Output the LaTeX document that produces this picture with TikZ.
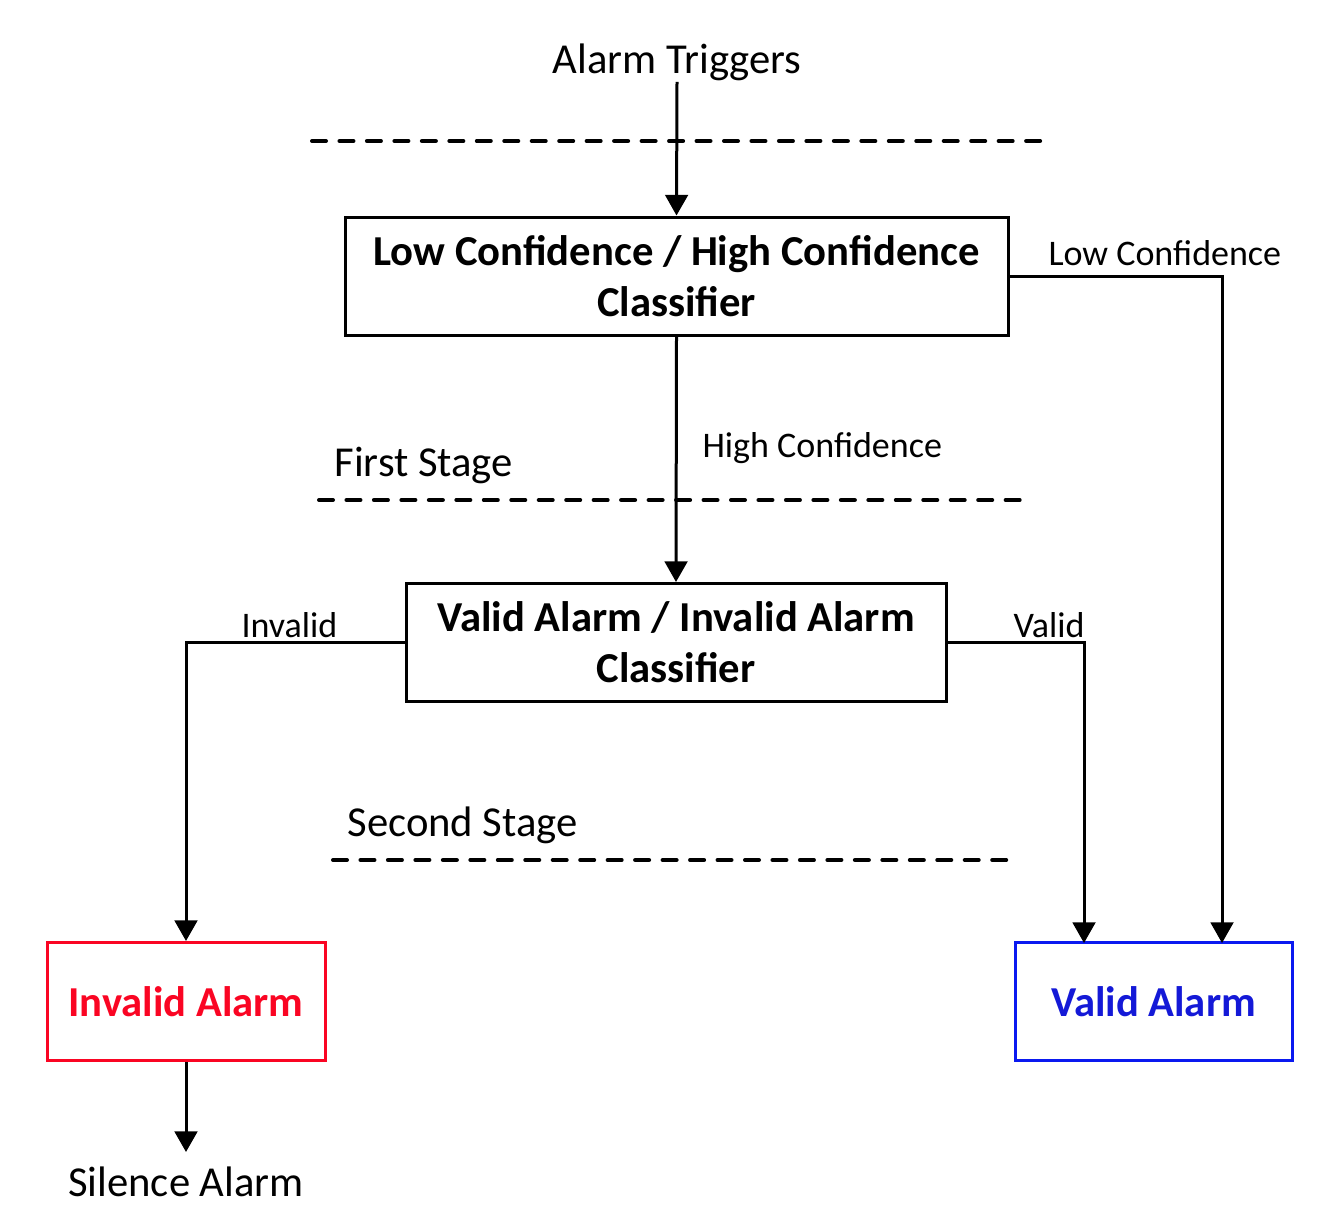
\documentclass[tikz,border=0pt]{standalone}
\usepackage{fontspec}
\setmainfont{Carlito}
\usetikzlibrary{arrows.meta}
\definecolor{invred}{RGB}{250,5,35}
\definecolor{valblue}{RGB}{10,25,240}
\definecolor{valtext}{RGB}{20,25,215}
\begin{document}
\begin{tikzpicture}[x=0.75pt,y=-0.75pt,
  line width=2.25pt,
  big/.style={font=\fontsize{32pt}{38.25pt}\selectfont},
  small/.style={font=\fontsize{27pt}{32pt}\selectfont},
  box/.style={draw, rectangle, inner sep=0pt, align=center,
    minimum width=#1, minimum height=88.5pt,
    font=\bfseries\fontsize{32pt}{38.25pt}\selectfont},
  plain/.style={inner sep=0pt, anchor=base},
  arr/.style={-{Triangle[length=15.5pt,width=17pt]}},
  stageline/.style={line width=3pt, line cap=round, dash pattern=on 10.5pt off 10.1pt}]
\useasboundingbox (0,0) rectangle (1324,1224);

\node[plain, big] (trig) at (677,73) {Alarm Triggers};
\node[box=497.25pt] (lc) at (676.5,276) {Low Confidence / High Confidence\\Classifier};
\node[box=405pt] (va) at (676,642.5) {Valid Alarm / Invalid Alarm\\Classifier};
\node[box=208.5pt, draw=invred, text=invred] (inv) at (186,1001.5) {Invalid Alarm};
\node[box=207.75pt, draw=valblue, text=valtext] (val) at (1153.5,1001.5) {Valid Alarm};
\node[plain, big] (sil) at (186,1196) {Silence Alarm};

% dashed stage lines
\coordinate (d1a) at (312,141); \coordinate (d1b) at (1045,141);
\coordinate (d2a) at (319,500); \coordinate (d2b) at (1027,500);
\coordinate (d3a) at (333,860); \coordinate (d3b) at (1013,860);
\draw[stageline] (d1a) -- (d1b);
\draw[stageline] (d2a) -- (d2b);
\draw[stageline] (d3a) -- (d3b);

\node[plain, big, anchor=base west] (fs) at (333,476) {First Stage};
\node[plain, big, anchor=base west] (ss) at (346,836) {Second Stage};

% connectors
\draw[arr] (trig.south) -- (lc.north);
\draw[arr] (lc.south) -- (va.north);
\draw[arr] (lc.east |- 0,276) -- (1222,276) -- (1222,943);
\draw[arr] (va.west) -- (186,642.5) -- (inv.north);
\draw[arr] (va.east) -- (1084,642.5) -- (1084,943);
\draw[arr] (inv.south) -- (186,1152);

% labels
\node[plain, small, anchor=base west] (llc) at (1047,265) {Low Confidence};
\node[plain, small, anchor=base west] (lhc) at (701,457) {High Confidence};
\node[plain, small, anchor=base west] (linv) at (240,637) {Invalid};
\node[plain, small, anchor=base west] (lval) at (1012,637) {Valid};
\end{tikzpicture}
\end{document}
